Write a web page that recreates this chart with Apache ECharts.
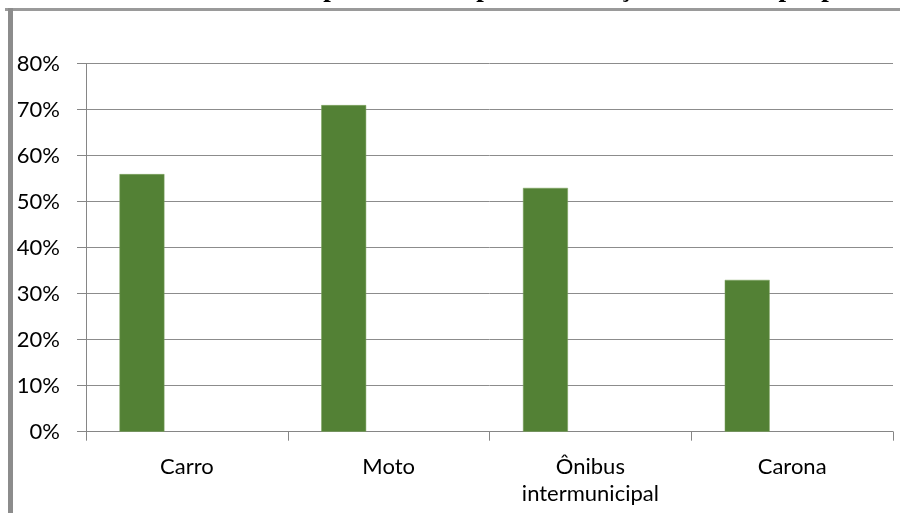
<!DOCTYPE html>
<html>
<head>
<meta charset="utf-8">
<script src="https://cdn.jsdelivr.net/npm/echarts@6/dist/echarts.min.js"></script>
<style>
  html, body { margin: 0; padding: 0; background: #fff; }
  #chart { width: 900px; height: 513px; }
</style>
</head>
<body>
<div id="chart"></div>
<script>
// Meios de transporte (percentual de respostas)
const categories = ['Carro', 'Moto', 'Ônibus\nintermunicipal', 'Carona'];
const percentuais = [56, 71, 53, 33];
const serieVazia2 = [null, null, null, null];
const serieVazia3 = [null, null, null, null];
const yTicks = { min: 0, max: 80, interval: 10 };
const titulo = 'Gráfico 5 – Meios de transporte usados para locomoção ao município pelos alunos';

const chart = echarts.init(document.getElementById('chart'), null, { renderer: 'canvas' });

const axisGray = '#868686';
const labelFont = 'Lato, "Open Sans", sans-serif';

chart.setOption({
  animation: false,
  backgroundColor: '#ffffff',
  grid: { left: 86, right: 7, top: 63.7, bottom: 81.3, containLabel: false },
  graphic: [
    {
      type: 'text', left: 18, top: -24, silent: true,
      style: { text: titulo, fill: '#000', font: 'bold 27px "Liberation Serif", "DejaVu Serif", serif' }
    },
    { type: 'rect', shape: { x: 5, y: 8, width: 895, height: 3 }, style: { fill: '#9a9a9a' }, silent: true },
    { type: 'rect', shape: { x: 8, y: 8, width: 5, height: 505 }, style: { fill: '#8c8c8c' }, silent: true }
  ],
  xAxis: {
    type: 'category',
    data: categories,
    boundaryGap: true,
    axisLine: { lineStyle: { color: axisGray, width: 1 } },
    axisTick: { show: true, length: 9, lineStyle: { color: axisGray } },
    axisLabel: {
      color: '#000', fontFamily: labelFont, fontSize: 22, lineHeight: 27,
      margin: 21.5, interval: 0
    },
    splitLine: { show: false }
  },
  yAxis: {
    type: 'value',
    min: yTicks.min, max: yTicks.max, interval: yTicks.interval,
    axisLine: { show: true, lineStyle: { color: axisGray, width: 1 } },
    axisTick: { show: true, length: 9, lineStyle: { color: axisGray } },
    axisLabel: {
      color: '#000', fontFamily: labelFont, fontSize: 22,
      margin: 26, formatter: '{value}%'
    },
    splitLine: { show: true, lineStyle: { color: '#8c8c8c', width: 1 } }
  },
  series: [
    {
      type: 'bar', data: percentuais, barGap: '0%', barCategoryGap: '33.2%',
      itemStyle: { color: '#538135', borderColor: '#7da35f', borderWidth: 0.5 }
    },
    { type: 'bar', data: serieVazia2, barGap: '0%', barCategoryGap: '33.2%' },
    { type: 'bar', data: serieVazia3, barGap: '0%', barCategoryGap: '33.2%' }
  ]
});
</script>
</body>
</html>
